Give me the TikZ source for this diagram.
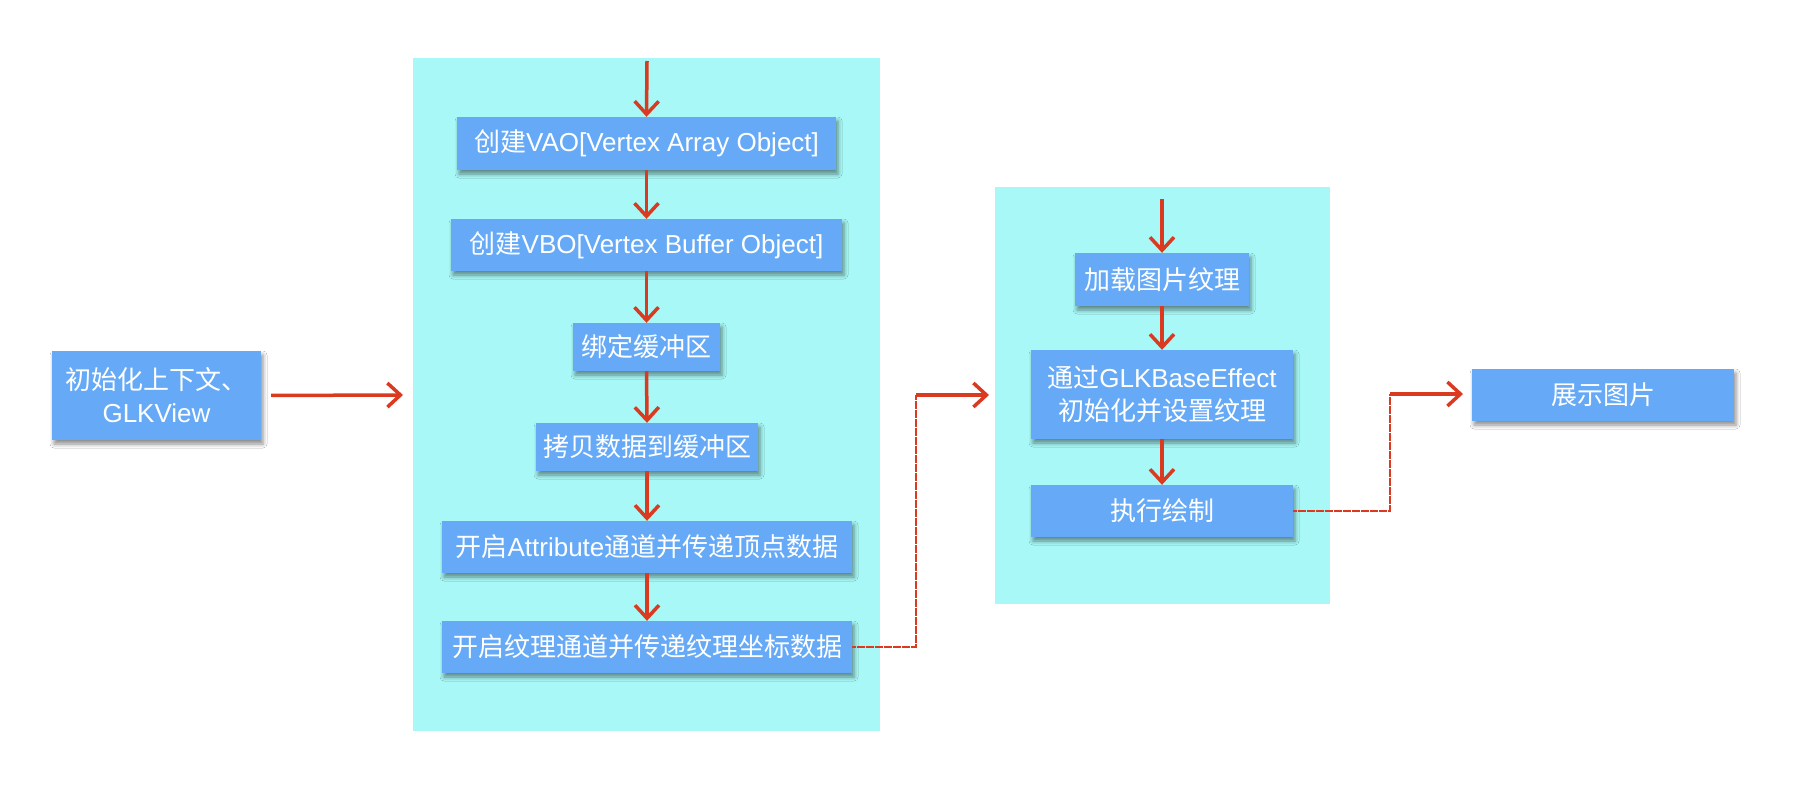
\documentclass[tikz,border=0pt]{standalone}
\usepackage{fontspec}
\setmainfont{Noto Sans CJK SC}
\newfontfamily\lat{Liberation Sans}
\usetikzlibrary{arrows.meta,shadows.blur}
\definecolor{panelc}{HTML}{A7F8F6}
\definecolor{boxc}{HTML}{66AAF7}
\definecolor{redc}{HTML}{DA3A20}
\tikzset{
  stepbox/.style={fill=boxc, text=white, inner sep=0pt, align=center,
    font=\fontsize{26}{33}\selectfont,
    blur shadow={shadow xshift=2pt, shadow yshift=-4pt, shadow blur radius=4pt, shadow opacity=45}},
  panel/.style={fill=panelc, inner sep=0pt},
  flow/.style={draw=redc, line width=3.5pt, -{Straight Barb[length=13pt,width=24pt,line width=3.5pt]}},
  rough/.style={draw=redc, line width=2.8pt, dash pattern=on 4pt off 0.5pt},
}
\begin{document}
\begin{tikzpicture}[x=1pt,y=-1pt]
\useasboundingbox[fill=white] (0,0) rectangle (1814,800);
% panels
\node[panel, minimum width=467pt, minimum height=673pt] (pA) at (646.5,394.5) {};
\node[panel, minimum width=335pt, minimum height=417pt] (pB) at (1162.5,395.5) {};
% boxes
\node[stepbox, minimum width=209pt, minimum height=89pt] (init) at (156.5,395.5) {初始化上下文、\\{\lat GLKView}};
\node[stepbox, minimum width=379pt, minimum height=53pt] (vao) at (646.5,143.5) {创建{\lat VAO[Vertex Array Object]}};
\node[stepbox, minimum width=391pt, minimum height=52pt] (vbo) at (646.5,245) {创建{\lat VBO[Vertex Buffer Object]}};
\node[stepbox, minimum width=147pt, minimum height=48pt] (bind) at (646.5,347) {绑定缓冲区};
\node[stepbox, minimum width=222pt, minimum height=48pt] (copy) at (647,447) {拷贝数据到缓冲区};
\node[stepbox, minimum width=410pt, minimum height=52pt] (attr) at (647,547) {开启{\lat Attribute}通道并传递顶点数据};
\node[stepbox, minimum width=410pt, minimum height=52pt] (tex) at (647,647) {开启纹理通道并传递纹理坐标数据};
\node[stepbox, minimum width=174pt, minimum height=53pt] (load) at (1162,279.5) {加载图片纹理};
\node[stepbox, minimum width=262pt, minimum height=89pt] (glk) at (1162,394.5) {通过{\lat GLKBaseEffect}\\初始化并设置纹理};
\node[stepbox, minimum width=262pt, minimum height=52pt] (draw) at (1162,511) {执行绘制};
\node[stepbox, minimum width=262pt, minimum height=52pt] (show) at (1603,395) {展示图片};
% coordinates
\coordinate (topA) at (647,61);
\coordinate (topB) at (1162,199);
\coordinate (inA) at (403,395);
\coordinate (inB) at (989,395);
\coordinate (inC) at (1463,394);
\coordinate (c1) at (916,395);
\coordinate (c2) at (1390,394);
% arrows
\draw[flow, shorten <=10pt] (init.east) -- (inA);
\draw[flow] (topA) -- (vao.north);
\draw[flow] (vao.south) -- (vbo.north);
\draw[flow] (vbo.south) -- (bind.north);
\draw[flow] (bind.south) -- (copy.north);
\draw[flow] (copy.south) -- (attr.north);
\draw[flow] (attr.south) -- (tex.north);
\draw[flow] (topB) -- (load.north);
\draw[flow] (load.south) -- (glk.north);
\draw[flow] (glk.south) -- (draw.north);
\draw[rough] (tex.east) -| (c1);
\draw[flow] (c1) -- (inB);
\draw[rough] (draw.east) -| (c2);
\draw[flow] (c2) -- (inC);
\end{tikzpicture}
\end{document}
